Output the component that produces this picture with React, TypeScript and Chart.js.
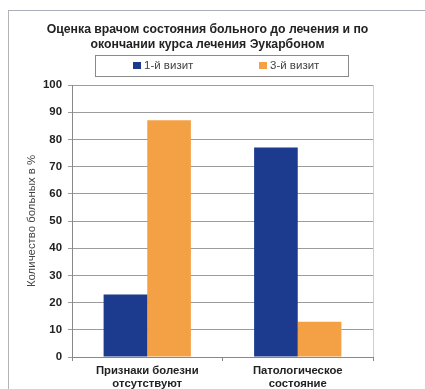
import React, { useEffect, useRef } from "react";
import { Chart, registerables } from "chart.js";

Chart.register(...registerables);

const titleLines = [
  "Оценка врачом состояния больного до лечения и по",
  "окончании курса лечения Эукарбоном",
];
const categories = [
  ["Признаки болезни", "отсутствуют"],
  ["Патологическое", "состояние"],
];
const seriesNames = ["1-й визит", "3-й визит"];
const firstVisit = [23, 77];
const thirdVisit = [87, 13];
const seriesColors = ["#1D3B8E", "#F4A145"];
const yAxisTitle = "Количество больных в %";
const yMax = 100;
const yStep = 10;

const FONT = "'Liberation Sans', Arial, sans-serif";

// Framed legend drawn above the plot area from the dataset labels and colours
const boxedLegend = {
  id: "boxedLegend",
  afterDraw(chart: any) {
    const { ctx } = chart;
    ctx.save();
    ctx.strokeStyle = "#8a8a8a";
    ctx.lineWidth = 1;
    ctx.fillStyle = "#ffffff";
    ctx.fillRect(95.5, 55.5, 253, 21);
    ctx.strokeRect(95.5, 55.5, 253, 21);
    const starts = [133, 259];
    ctx.font = `11.5px ${FONT}`;
    ctx.textBaseline = "middle";
    chart.data.datasets.forEach((ds: any, i: number) => {
      const x = starts[i];
      ctx.fillStyle = ds.backgroundColor;
      ctx.fillRect(x, 62, 8, 7);
      ctx.fillStyle = "#444";
      ctx.fillText(ds.label, x + 11, 66);
    });
    // light right edge of the plot area
    const a = chart.chartArea;
    ctx.strokeStyle = "#cfcfcf";
    ctx.beginPath();
    ctx.moveTo(Math.round(a.right) + 0.5, a.top);
    ctx.lineTo(Math.round(a.right) + 0.5, a.bottom);
    ctx.stroke();
    ctx.restore();
  },
};

export default function App() {
  const canvasRef = useRef<HTMLCanvasElement | null>(null);

  useEffect(() => {
    if (!canvasRef.current) return;
    const chart = new Chart(canvasRef.current, {
      type: "bar",
      data: {
        labels: categories,
        datasets: [
          {
            label: seriesNames[0],
            data: firstVisit,
            backgroundColor: seriesColors[0],
            categoryPercentage: 0.58,
            barPercentage: 1,
          },
          {
            label: seriesNames[1],
            data: thirdVisit,
            backgroundColor: seriesColors[1],
            categoryPercentage: 0.58,
            barPercentage: 1,
          },
        ],
      },
      options: {
        animation: false,
        responsive: false,
        layout: { padding: { left: 0, right: 10, top: 0, bottom: 0 } },
        plugins: {
          legend: { display: false },
          tooltip: { enabled: false },
          title: {
            display: true,
            text: titleLines,
            color: "#222",
            font: { family: FONT, size: 12.25, weight: "bold", lineHeight: 15 / 12.25 },
            padding: { top: 22.5, bottom: 32.5 },
          },
        },
        scales: {
          x: {
            offset: true,
            grid: {
              display: true,
              offset: true,
              drawOnChartArea: false,
              drawTicks: true,
              tickLength: 4,
              color: "#888",
            },
            border: { color: "#888" },
            ticks: {
              color: "#222",
              padding: 4,
              font: { family: FONT, size: 11.3, weight: "bold", lineHeight: 1.1 },
              maxRotation: 0,
            },
            afterFit(scale: any) {
              scale.height = 32;
            },
          },
          y: {
            min: 0,
            max: yMax,
            ticks: {
              stepSize: yStep,
              color: "#222",
              padding: 6,
              font: { family: FONT, size: 11.4, weight: "bold" },
            },
            grid: {
              color: "#9c9c9c",
              tickLength: 4,
            },
            border: { color: "#888" },
            title: {
              display: true,
              text: yAxisTitle,
              color: "#444",
              font: { family: FONT, size: 11.4, lineHeight: 1.2 },
              padding: { top: 25, bottom: 0 },
            },
            afterFit(scale: any) {
              scale.width = 72;
            },
          },
          // empty right-hand spacer keeping the plot narrower than the title band
          spacer: {
            type: "linear",
            position: "right",
            display: true,
            grid: { display: false },
            border: { display: false },
            ticks: { display: false },
            afterFit(scale: any) {
              scale.width = 42;
            },
          },
        },
      },
      plugins: [boxedLegend],
    });
    return () => chart.destroy();
  }, []);

  return (
    <div
      style={{
        position: "fixed",
        left: 0,
        top: 0,
        width: 425,
        height: 389,
        background: "#fff",
        overflow: "hidden",
      }}
    >
      <div
        style={{
          position: "absolute",
          left: 8,
          top: 10,
          width: 440,
          height: 400,
          borderLeft: "1px solid #b4b4b4",
          borderTop: "1px solid #a9b0bb",
        }}
      />
      <canvas
        ref={canvasRef}
        width={425}
        height={389}
        style={{ position: "absolute", left: 0, top: 0 }}
      />
    </div>
  );
}
